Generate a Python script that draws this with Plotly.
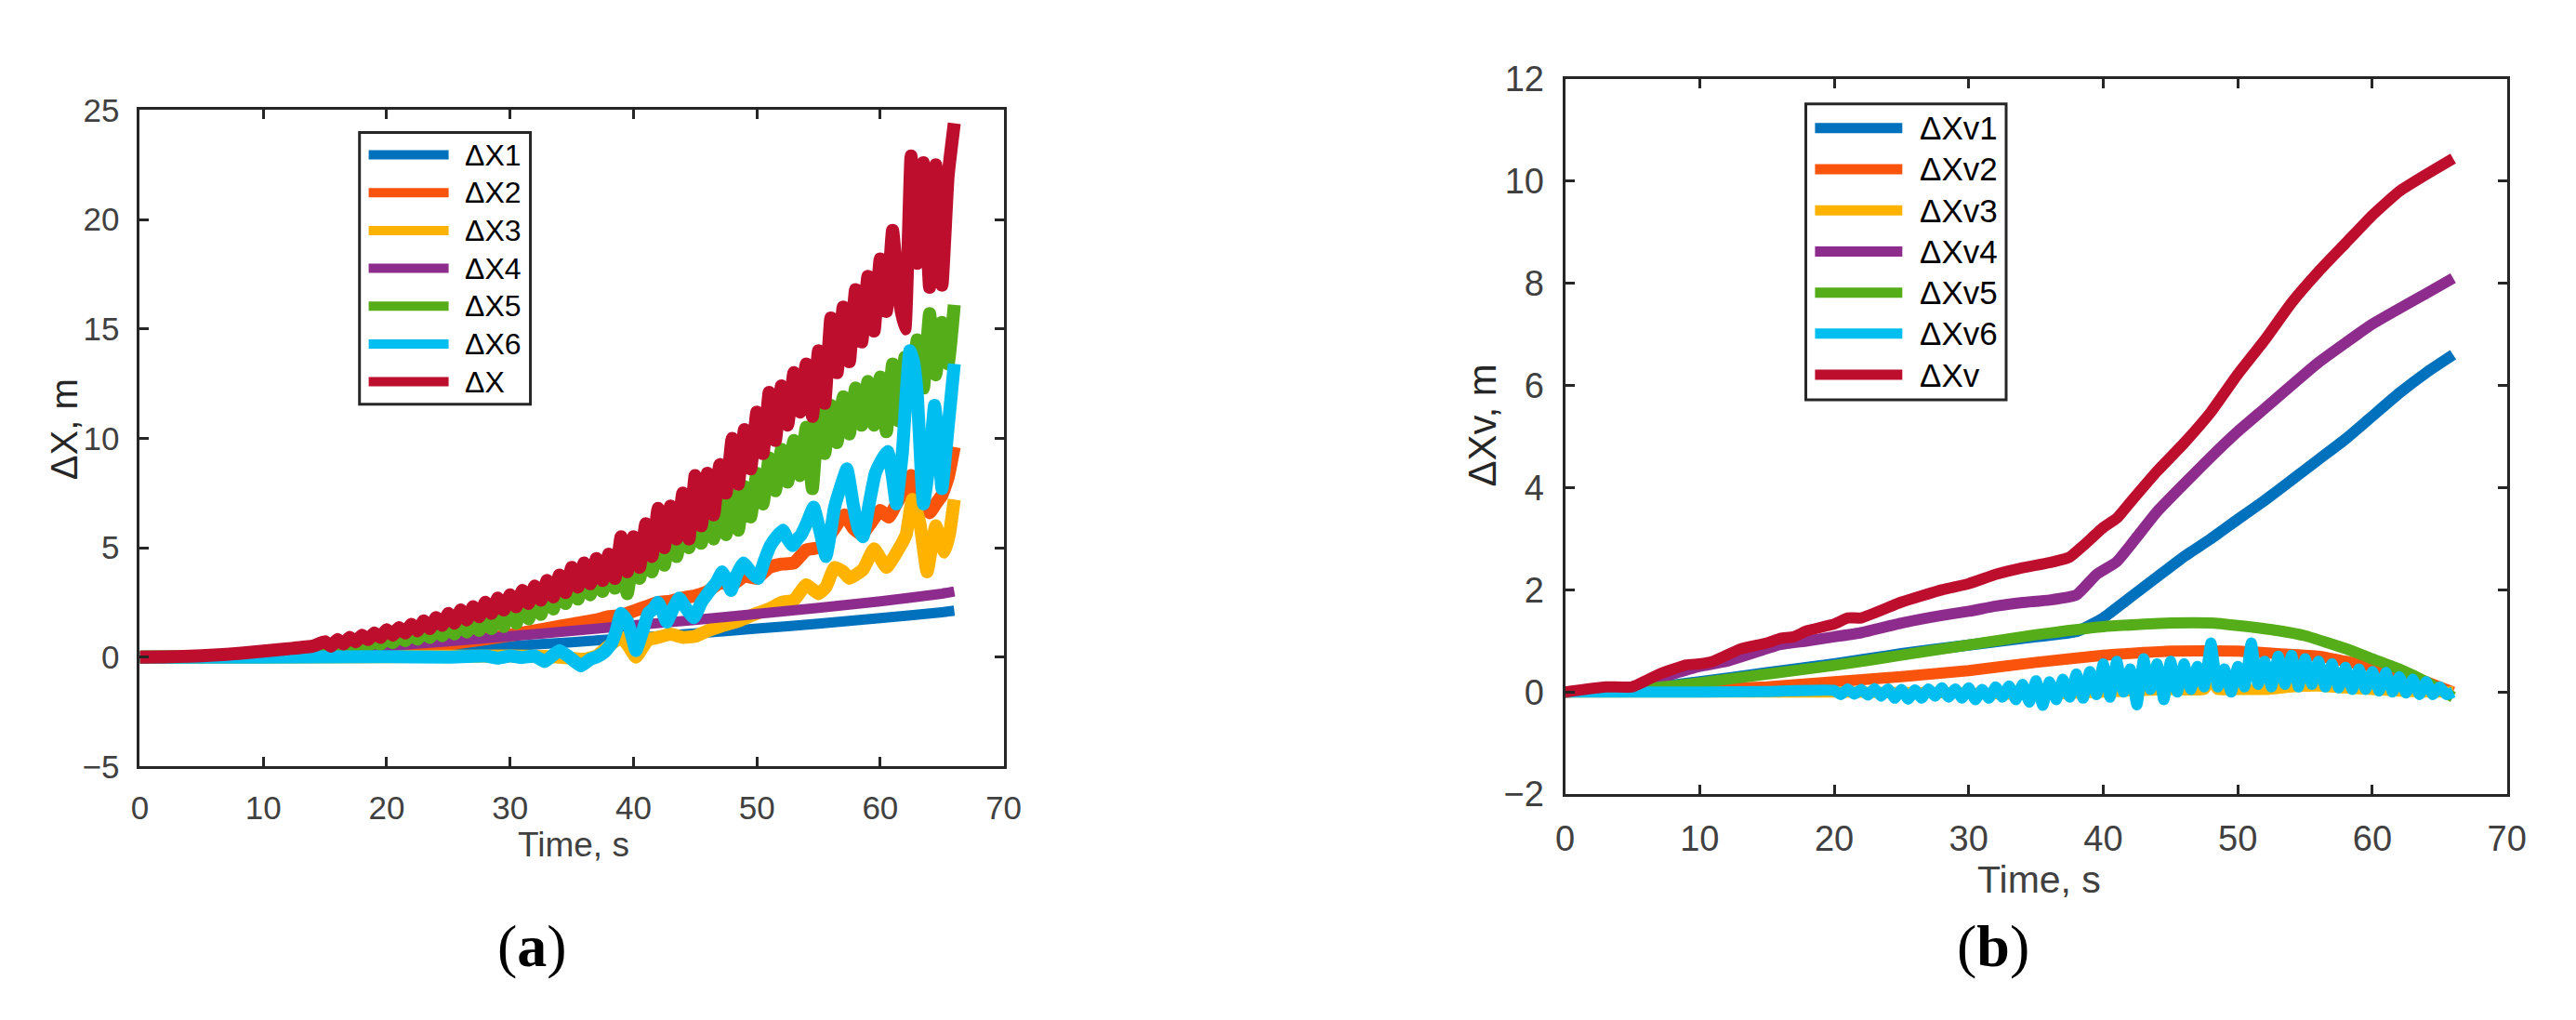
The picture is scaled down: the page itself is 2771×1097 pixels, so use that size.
import numpy as np
import plotly.graph_objects as go

W, H = 2771, 1097

# colours (MATLAB-like palette as seen in the picture)
c_blue = '#0072BD'
c_orange = '#F9530C'
c_yellow = '#FFB300'
c_purple = '#8E2C8E'
c_green = '#55AD19'
c_cyan = '#00BEEF'
c_red = '#BE0E2E'

# ---------------- panel (a): dX ----------------
a_names = ['ΔX1', 'ΔX2', 'ΔX3', 'ΔX4', 'ΔX5', 'ΔX6', 'ΔX']

dx1_t = [0, 5, 10, 15, 20, 25, 30, 35, 40, 45, 50, 55, 60, 65, 66]
dx1_v = [0, 0.01, 0.04, 0.1, 0.19, 0.32, 0.5, 0.68, 0.88, 1.08, 1.3, 1.53, 1.78, 2.05, 2.12]

dx2_t = [0, 10, 15, 20, 25, 30, 33, 35, 37, 38, 39, 40, 41, 42, 43, 44, 45, 46, 47, 48,
         49, 50, 51, 52, 53, 54, 55, 55.6, 56.3, 57.1, 57.8, 58.5, 59.2, 60, 60.7, 61.3, 62, 62.5, 63, 63.5,
         64, 64.5, 65, 65.5, 66]
dx2_v = [0, 0.02, 0.1, 0.3, 0.6, 1.0, 1.3, 1.5, 1.7, 1.85, 1.9, 2.1, 2.3, 2.5, 2.55, 2.7, 2.8, 3.0, 3.4, 3.3,
         3.7, 3.6, 4.1, 4.25, 4.3, 4.9, 5.0, 5.3, 5.9, 6.5, 5.9, 5.6, 6.1, 6.7, 6.4, 7.0, 7.7, 8.3, 7.4, 7.0,
         6.6, 7.0, 7.4, 8.2, 9.6]

dx3_t = [0, 10, 20, 30, 34, 36, 37, 38.2, 39, 39.6, 40.2, 40.7, 41.2, 42, 43, 44, 45, 46, 47, 48.5,
         50, 51, 52, 53, 54, 55, 55.6, 56.3, 57, 57.5, 58.6, 59.5, 60.5, 61.5, 62.1, 62.6, 63.2, 63.8, 64.5, 65.2,
         65.6, 66]
dx3_v = [0, 0, 0.02, 0.05, 0.0, -0.1, 0.05, 0.6, 0.9, 0.5, 0.0, 0.4, 0.8, 0.9, 1.05, 0.9, 0.95, 1.2, 1.4, 1.65,
         2.0, 2.2, 2.5, 2.6, 3.3, 2.9, 3.2, 4.1, 3.9, 3.6, 4.0, 4.95, 4.1, 4.95, 5.6, 7.2, 6.15, 3.9, 6.0, 4.8,
         5.6, 7.2]

dx4_t = [0, 5, 10, 15, 20, 25, 30, 35, 40, 45, 50, 55, 60, 65, 66]
dx4_v = [0, 0.02, 0.12, 0.3, 0.5, 0.72, 0.95, 1.2, 1.45, 1.7, 1.97, 2.25, 2.55, 2.9, 3.0]

# dX5: smooth start, then readings every 0.5 s from t = 15
dx5_start_t = [0, 5, 10, 13]
dx5_start_v = [0, 0.02, 0.12, 0.22]
dx5_noisy = [0.33, 0.28, 0.42, 0.34, 0.52, 0.42, 0.62, 0.5, 0.72, 0.58,
             0.85, 0.66, 0.95, 0.75, 1.05, 0.82, 1.15, 0.9, 1.28, 0.98,
             1.42, 1.06, 1.55, 1.15, 1.7, 1.22, 1.85, 1.3, 2.0, 1.4,
             2.2, 1.55, 2.45, 1.75, 2.7, 1.95, 2.95, 2.2, 3.3, 2.45,
             3.5, 2.65, 3.7, 2.85, 3.9, 3.0, 4.1, 3.15, 4.4, 2.9,
             4.6, 3.6, 4.9, 3.9, 5.3, 4.2, 5.7, 4.6, 6.1, 5.0,
             6.4, 5.2, 6.7, 5.4, 7.1, 5.6, 7.4, 5.8, 7.8, 6.4,
             8.4, 7.0, 9.1, 7.6, 9.5, 8.0, 9.9, 8.3, 10.5, 7.7,
             11.2, 9.3, 11.5, 9.8, 11.9, 10.2, 12.3, 10.6, 12.6, 10.6,
             12.8, 10.3, 13.4, 10.8, 13.7, 11.9, 14.5, 12.3, 15.7, 12.9,
             15.3, 13.4, 16.1]

dx6_t = [0, 10, 20, 25, 28, 29, 30, 31, 32, 32.8, 33.5, 34, 34.8, 35.75, 36.5, 37, 37.6, 38.2, 38.6, 39,
         39.5, 39.9, 40.2, 40.7, 41.2, 41.6, 42, 42.4, 42.7, 43.2, 43.7, 44.3, 44.9, 45.5, 46.2, 46.7, 47.2, 47.6, 47.9, 48.4,
         48.9, 49.5, 50.1, 50.6, 51.1, 51.6, 52.1, 52.5, 52.9, 53.3, 53.6, 54.1, 54.6, 55.1, 55.6, 56, 56.3, 56.8, 57.3, 57.8,
         58.2, 58.6, 59.1, 59.6, 60.1, 60.6, 61, 61.3, 61.8, 62.1, 62.4, 62.7, 63, 63.5, 64, 64.4, 64.7, 65, 65.5, 66]
dx6_v = [0, 0, 0.02, 0.0, 0.05, -0.05, 0.05, -0.02, 0.05, -0.2, 0.1, 0.3, 0.0, -0.4, -0.1, 0.0, 0.2, 0.6, 1.2, 2.0,
         1.65, 0.9, 0.3, 1.1, 2.0, 2.2, 2.5, 2.0, 1.6, 2.2, 2.7, 2.2, 1.8, 2.5, 3.05, 3.4, 3.9, 3.5, 3.05, 3.8,
         4.3, 3.9, 3.6, 4.4, 5.1, 5.5, 5.8, 5.4, 5.1, 5.4, 5.6, 6.2, 6.85, 5.8, 4.6, 5.8, 6.85, 7.8, 8.6, 7.0,
         5.9, 5.5, 7.0, 8.4, 9.0, 9.4, 8.2, 7.0, 9.4, 12.0, 14.0, 13.5, 12.0, 7.0, 9.0, 11.5, 10.0, 7.7, 10.5, 13.4]

# dX: smooth start, then readings every 0.5 s from t = 15
dx_start_t = [0, 2, 4, 6, 8, 10, 12, 14]
dx_start_v = [0, 0.01, 0.04, 0.09, 0.17, 0.27, 0.38, 0.5]
dx_noisy = [0.7, 0.5, 0.8, 0.6, 0.9, 0.7, 1.0, 0.8, 1.1, 0.9,
            1.25, 1.0, 1.35, 1.1, 1.5, 1.2, 1.65, 1.3, 1.8, 1.45,
            2.0, 1.55, 2.15, 1.7, 2.3, 1.85, 2.5, 2.0, 2.7, 2.15,
            2.85, 2.3, 3.05, 2.45, 3.25, 2.6, 3.5, 2.75, 3.75, 2.95,
            4.1, 3.2, 4.3, 3.35, 4.5, 3.5, 4.7, 3.6, 5.5, 3.9,
            5.5, 4.1, 6.1, 4.6, 6.8, 5.0, 6.9, 5.4, 7.5, 5.4,
            8.3, 6.0, 8.4, 6.5, 8.8, 7.5, 10.0, 7.9, 10.4, 8.6,
            11.2, 9.3, 12.1, 9.9, 12.4, 10.6, 13.0, 11.2, 13.4, 11.0,
            14.0, 11.6, 15.5, 13.0, 16.0, 13.5, 16.8, 14.4, 17.4, 14.9,
            18.2, 15.8, 19.5, 16.5, 15.0, 22.9, 18.0, 22.6, 16.9, 22.5,
            17.0, 22.0, 24.4]
noisy_t0, noisy_dt = 15.0, 0.5

# ---------------- panel (b): dXv ----------------
b_names = ['ΔXv1', 'ΔXv2', 'ΔXv3', 'ΔXv4', 'ΔXv5', 'ΔXv6', 'ΔXv']

dxv1_t = [0, 5, 10, 15, 20, 25, 30, 35, 38, 40, 42, 44, 46, 48, 50, 52, 54, 56, 58, 60, 62, 64, 66]
dxv1_v = [0, 0.05, 0.2, 0.38, 0.55, 0.75, 0.92, 1.08, 1.18, 1.45, 1.85, 2.25, 2.65, 3.0, 3.38, 3.75, 4.15, 4.55,
          4.95, 5.4, 5.85, 6.25, 6.6]

dxv2_t = [0, 10, 15, 20, 25, 30, 35, 40, 45, 50, 53, 56, 58, 60, 62, 64, 66]
dxv2_v = [0, 0.05, 0.1, 0.2, 0.3, 0.42, 0.58, 0.72, 0.8, 0.8, 0.75, 0.7, 0.6, 0.5, 0.38, 0.2, 0.0]

dxv3_t = [0, 10, 20, 30, 35, 40, 45, 47.5, 48, 48.5, 50, 52, 54, 56, 58, 60, 62, 64, 66]
dxv3_v = [0, 0, 0, -0.02, -0.05, 0, 0.05, 0.05, 0.25, 0.05, 0.05, 0.05, 0.1, 0.12, 0.08, 0.05, 0.02, 0, 0]

dxv4_t = [0, 5, 8, 10, 12, 15, 16, 18, 20, 22, 25, 28, 30, 32, 34, 36, 38, 39.5, 41, 44, 48, 50, 52, 56, 60, 64, 66]
dxv4_v = [0, 0.1, 0.35, 0.5, 0.6, 0.85, 0.93, 1.0, 1.08, 1.16, 1.35, 1.5, 1.58, 1.68, 1.75, 1.8, 1.9, 2.3, 2.55,
          3.53, 4.6, 5.1, 5.55, 6.45, 7.2, 7.8, 8.1]

dxv5_t = [0, 5, 8, 10, 15, 20, 25, 30, 35, 40, 45, 48, 50, 53, 55, 58, 60, 62, 64, 66]
dxv5_v = [0, 0.05, 0.12, 0.18, 0.35, 0.52, 0.72, 0.92, 1.12, 1.28, 1.35, 1.35, 1.3, 1.2, 1.1, 0.85, 0.65, 0.45,
          0.2, -0.1]

# dXv6: flat start, then readings every 0.5 s from t = 20
dxv6_start_t = [0, 5, 10, 15]
dxv6_start_v = [0, 0, 0, 0.01]
dxv6_noisy = [0.03, -0.05, 0.06, -0.04, 0.05, -0.06, 0.07, -0.08, 0.06, -0.12,
              0.05, -0.14, 0.04, -0.12, 0.06, -0.08, 0.08, -0.1, 0.06, -0.12,
              0.08, -0.15, 0.05, -0.12, 0.1, -0.1, 0.12, -0.15, 0.15, -0.2,
              0.22, -0.26, 0.2, -0.15, 0.25, -0.1, 0.35, -0.12, 0.4, -0.05,
              0.55, -0.1, 0.6, 0.0, 0.45, -0.25, 0.65, 0.05, 0.55, -0.15,
              0.6, 0.0, 0.55, 0.05, 0.5, 0.1, 0.96, 0.1, 0.45, 0.0,
              0.5, 0.1, 0.96, 0.15, 0.6, 0.1, 0.7, 0.15, 0.72, 0.1,
              0.65, 0.15, 0.6, 0.1, 0.55, 0.08, 0.48, 0.05, 0.45, 0.05,
              0.4, 0.02, 0.38, 0.0, 0.3, -0.02, 0.25, -0.05, 0.2, -0.05,
              0.1, -0.05, 0.0]
dxv6_t0 = 20.0

dxv_t = [0, 3, 5, 7, 9, 10, 11, 13, 15, 16, 17, 18, 20, 21, 22, 25, 28, 30, 32, 34,
         36, 37.5, 38.5, 40, 41, 42, 44, 46, 48, 50, 52, 54, 56, 58, 60, 62, 64, 66]
dxv_v = [0, 0.1, 0.1, 0.35, 0.53, 0.55, 0.6, 0.84, 0.96, 1.05, 1.08, 1.2, 1.33, 1.45, 1.45, 1.76, 2.0, 2.12, 2.3,
         2.43, 2.53, 2.64, 2.86, 3.22, 3.4, 3.71, 4.32, 4.87, 5.48, 6.22, 6.89, 7.62, 8.23, 8.78, 9.33, 9.8,
         10.13, 10.44]


def noisy_times(t0, vals):
    return list(t0 + noisy_dt * np.arange(len(vals)))


a_series = [
    (dx1_t, dx1_v, c_blue, 11),
    (dx2_t, dx2_v, c_orange, 14),
    (dx3_t, dx3_v, c_yellow, 14),
    (dx4_t, dx4_v, c_purple, 11),
    (dx5_start_t + noisy_times(noisy_t0, dx5_noisy), dx5_start_v + dx5_noisy, c_green, 14),
    (dx6_t, dx6_v, c_cyan, 14),
    (dx_start_t + noisy_times(noisy_t0, dx_noisy), dx_start_v + dx_noisy, c_red, 14),
]
b_series = [
    (dxv1_t, dxv1_v, c_blue, 12),
    (dxv2_t, dxv2_v, c_orange, 12),
    (dxv3_t, dxv3_v, c_yellow, 12),
    (dxv4_t, dxv4_v, c_purple, 12),
    (dxv5_t, dxv5_v, c_green, 12),
    (dxv6_start_t + noisy_times(dxv6_t0, dxv6_noisy), dxv6_start_v + dxv6_noisy, c_cyan, 12),
    (dxv_t, dxv_v, c_red, 12),
]

fig = go.Figure()
for (t, v, col, lw), nm in zip(a_series, a_names):
    fig.add_trace(go.Scatter(x=t, y=v, mode='lines', name=nm, showlegend=False,
                             line=dict(color=col, width=lw, shape='spline', smoothing=0.4),
                             xaxis='x', yaxis='y'))
for (t, v, col, lw), nm in zip(b_series, b_names):
    fig.add_trace(go.Scatter(x=t, y=v, mode='lines', name=nm, showlegend=False,
                             line=dict(color=col, width=lw, shape='spline', smoothing=0.4),
                             xaxis='x2', yaxis='y2'))


def px(x):
    return x / W


def py(y):
    return 1 - y / H


axis_col = '#262626'
tick_col = '#404040'
font_name = 'Liberation Sans, Arial, sans-serif'


def axis_style(size):
    return dict(showline=True, linewidth=3, linecolor=axis_col, mirror='ticks',
                ticks='inside', ticklen=10, tickwidth=3, tickcolor=axis_col,
                showgrid=False, zeroline=False, ticklabelstandoff=12,
                tickfont=dict(family=font_name, size=size, color=tick_col))


fig.update_layout(
    width=W, height=H, margin=dict(l=0, r=0, t=0, b=0),
    paper_bgcolor='white', plot_bgcolor='white', showlegend=False,
    xaxis=dict(domain=[px(133), px(1073)], range=[0, 70], dtick=10, anchor='y', **axis_style(35)),
    yaxis=dict(domain=[py(827), py(93)], range=[-5, 25], dtick=5, anchor='x', **axis_style(35)),
    xaxis2=dict(domain=[px(1684), px(2709)], range=[0, 70], dtick=10, anchor='y2', **axis_style(38)),
    yaxis2=dict(domain=[py(858), py(58)], range=[-2, 12], dtick=2, anchor='x2', **axis_style(38)),
)

shapes = []
annotations = []


def add_legend(names, colors, box, line_x, text_x, row_y0, row_dy, lw, fsize):
    x0, y0, x1, y1 = box
    shapes.append(dict(type='rect', xref='paper', yref='paper', x0=px(x0), x1=px(x1), y0=py(y1), y1=py(y0),
                       line=dict(color=axis_col, width=3), fillcolor='white', layer='above'))
    for i, (nm, col) in enumerate(zip(names, colors)):
        yy = row_y0 + i * row_dy
        shapes.append(dict(type='line', xref='paper', yref='paper', x0=px(line_x[0]), x1=px(line_x[1]),
                           y0=py(yy), y1=py(yy), line=dict(color=col, width=lw), layer='above'))
        annotations.append(dict(xref='paper', yref='paper', x=px(text_x), y=py(yy), text=nm, showarrow=False,
                                xanchor='left', yanchor='middle',
                                font=dict(family=font_name, size=fsize, color='black')))


a_colors = [s[2] for s in a_series]
b_colors = [s[2] for s in b_series]
add_legend(a_names, a_colors, (372, 118, 558, 422), (382, 469), 485, 143, 42.3, 10, 32)
add_legend(b_names, b_colors, (1946, 86, 2164, 417), (1956, 2051), 2068, 113, 46, 11, 35)

# axis titles and panel labels
annotations += [
    dict(xref='paper', yref='paper', x=px(50), y=py(450), text='ΔX, m', textangle=-90, showarrow=False,
         xanchor='center', yanchor='middle', font=dict(family=font_name, size=40, color=axis_col)),
    dict(xref='paper', yref='paper', x=px(605), y=py(915), text='Time, s', showarrow=False,
         xanchor='center', yanchor='middle', font=dict(family=font_name, size=37, color=tick_col)),
    dict(xref='paper', yref='paper', x=px(1594), y=py(446), text='ΔXv, m', textangle=-90, showarrow=False,
         xanchor='center', yanchor='middle', font=dict(family=font_name, size=42, color=axis_col)),
    dict(xref='paper', yref='paper', x=px(2200), y=py(953), text='Time, s', showarrow=False,
         xanchor='center', yanchor='middle', font=dict(family=font_name, size=41, color=tick_col)),
    dict(xref='paper', yref='paper', x=px(560), y=py(1028), text='(<b>a</b>)', showarrow=False,
         xanchor='center', yanchor='middle', font=dict(family='Liberation Serif, serif', size=64, color='black')),
    dict(xref='paper', yref='paper', x=px(2150), y=py(1028), text='(<b>b</b>)', showarrow=False,
         xanchor='center', yanchor='middle', font=dict(family='Liberation Serif, serif', size=64, color='black')),
]

fig.update_layout(shapes=shapes, annotations=annotations)
fig.write_html('out.html')
